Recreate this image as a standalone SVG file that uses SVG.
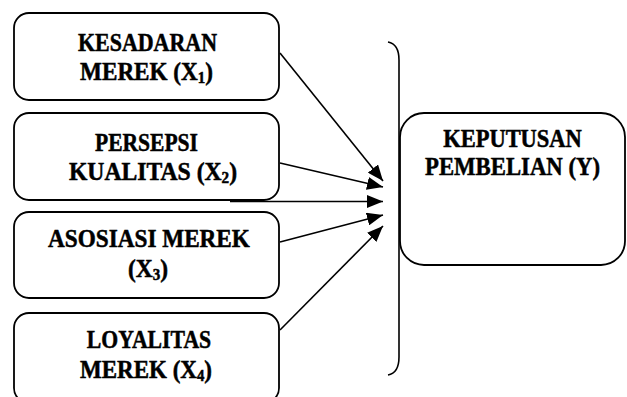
<svg xmlns="http://www.w3.org/2000/svg" width="627" height="397" viewBox="0 0 627 397">
<style>
.box{fill:#fff;stroke:#000;stroke-width:1.8}
.t{font-family:"Liberation Serif","Times New Roman",serif;font-weight:bold;font-size:25px;fill:#000;stroke:#000;stroke-width:0.5;text-anchor:middle}
.sub{font-size:16px}
.con{stroke:#000;stroke-width:1.6;fill:none}
</style>
<defs>
<marker id="ah" viewBox="0 0 10 10" refX="10" refY="5" markerWidth="16" markerHeight="13" markerUnits="userSpaceOnUse" orient="auto" preserveAspectRatio="none">
<path d="M0,0 L10,5 L0,10 Z" fill="#000"/>
</marker>
</defs>
<rect width="627" height="397" fill="#fff"/>
<g id="connectors">
<path class="con" d="M280,53 L383,181" marker-end="url(#ah)"/>
<path class="con" d="M280,163 L383,187" marker-end="url(#ah)"/>
<path class="con" d="M230,201.5 L383,201.5" marker-end="url(#ah)"/>
<path class="con" d="M280,242 L383,215" marker-end="url(#ah)"/>
<path class="con" d="M280,330 L383,226" marker-end="url(#ah)"/>
<path class="con" d="M388,42 Q399,44 399,60 L399,357 Q399,373 388,375"/>
</g>
<g id="x1">
<rect class="box" x="14" y="13" width="265" height="87" rx="15"/>
<text class="t" transform="translate(147.5,51) scale(0.878,1)">KESADARAN</text>
<text class="t" transform="translate(146.5,80) scale(0.927,1)">MEREK (X<tspan class="sub" dy="3">1</tspan><tspan dy="-3">)</tspan></text>
</g>
<g id="x2">
<rect class="box" x="14" y="113" width="265" height="87" rx="15"/>
<text class="t" transform="translate(146.5,151) scale(0.862,1)">PERSEPSI</text>
<text class="t" transform="translate(153,180) scale(0.947,1)">KUALITAS (X<tspan class="sub" dy="3">2</tspan><tspan dy="-3">)</tspan></text>
</g>
<g id="x3">
<rect class="box" x="14" y="212" width="265" height="86" rx="15"/>
<text class="t" transform="translate(149,247) scale(0.929,1)">ASOSIASI MEREK</text>
<text class="t" transform="translate(148,277) scale(0.937,1)">(X<tspan class="sub" dy="3">3</tspan><tspan dy="-3">)</tspan></text>
</g>
<g id="x4">
<rect class="box" x="14" y="313" width="265" height="90" rx="15"/>
<text class="t" transform="translate(149,348) scale(0.869,1)">LOYALITAS</text>
<text class="t" transform="translate(146,378) scale(0.92,1)">MEREK (X<tspan class="sub" dy="3">4</tspan><tspan dy="-3">)</tspan></text>
</g>
<g id="y">
<rect class="box" x="400" y="113" width="225" height="152" rx="24"/>
<text class="t" transform="translate(512.5,147) scale(0.9,1)">KEPUTUSAN</text>
<text class="t" transform="translate(512.5,175) scale(0.91,1)">PEMBELIAN (Y)</text>
</g>
</svg>
